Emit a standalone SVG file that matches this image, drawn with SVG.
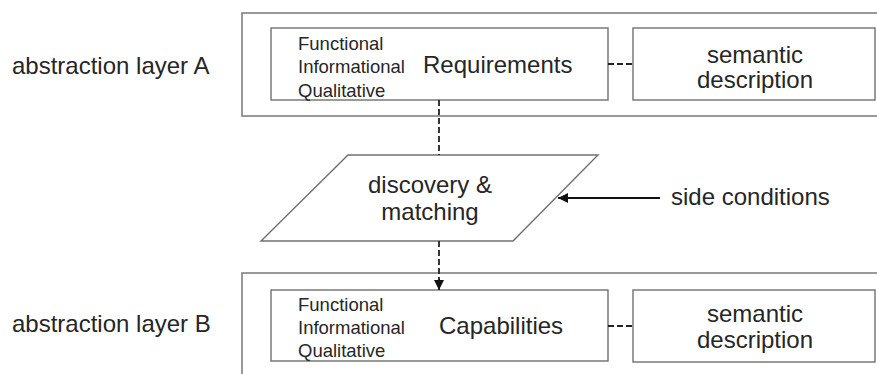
<svg xmlns="http://www.w3.org/2000/svg" width="877" height="374" viewBox="0 0 877 374">
<defs>
<style>
.outer{fill:#fff;stroke:#808080;stroke-width:1.6}
.box{fill:#fff;stroke:#707070;stroke-width:1.4}
.big{font-family:"Liberation Sans",Arial,sans-serif;font-size:24px;fill:#262626}
.small{font-family:"Liberation Sans",Arial,sans-serif;font-size:18.5px;fill:#262626}
.dash{fill:none;stroke:#222;stroke-width:1.8;stroke-dasharray:6,3}
.solid{fill:none;stroke:#111;stroke-width:2}
</style>
<marker id="ah" viewBox="0 0 10 10" refX="10" refY="5" markerWidth="10" markerHeight="10" markerUnits="userSpaceOnUse" orient="auto">
<path d="M0,0 L10,5 L0,10 z" fill="#111"/>
</marker>
</defs>
<rect width="877" height="374" fill="#fff"/>
<g id="layerA">
<rect class="outer" x="242" y="13" width="660" height="103"/>
<text class="big" x="12" y="74">abstraction layer A</text>
</g>
<g id="layerB">
<rect class="outer" x="242" y="273" width="660" height="130"/>
<text class="big" x="12" y="332">abstraction layer B</text>
</g>
<g id="requirements">
<rect class="box" x="271" y="28" width="337" height="72"/>
<text class="small" x="298" y="50">Functional</text>
<text class="small" x="298" y="73">Informational</text>
<text class="small" x="298" y="97">Qualitative</text>
<text class="big" x="423" y="73">Requirements</text>
</g>
<g id="semanticA">
<rect class="box" x="633" y="28" width="242" height="72"/>
<text class="big" x="755" y="63" text-anchor="middle">semantic</text>
<text class="big" x="755" y="88" text-anchor="middle">description</text>
</g>
<g id="matching">
<polygon class="box" points="348,155 598,155 513,241 261,241"/>
<text class="big" x="430" y="193" text-anchor="middle">discovery &amp;</text>
<text class="big" x="430" y="220" text-anchor="middle">matching</text>
</g>
<g id="sideconditions">
<text class="big" x="671" y="205">side conditions</text>
</g>
<g id="capabilities">
<rect class="box" x="271" y="290" width="337" height="71"/>
<text class="small" x="298" y="311">Functional</text>
<text class="small" x="298" y="334">Informational</text>
<text class="small" x="298" y="357">Qualitative</text>
<text class="big" x="439" y="334">Capabilities</text>
</g>
<g id="semanticB">
<rect class="box" x="633" y="290" width="242" height="72"/>
<text class="big" x="755" y="322" text-anchor="middle">semantic</text>
<text class="big" x="755" y="348" text-anchor="middle">description</text>
</g>
<g id="connectors">
<line class="dash" x1="608" y1="64" x2="633" y2="64"/>
<line class="dash" x1="608" y1="326" x2="633" y2="326"/>
<line class="dash" x1="439" y1="100" x2="439" y2="155"/>
<line class="dash" x1="439" y1="241" x2="439" y2="281"/>
<line x1="439" y1="279" x2="439" y2="290" stroke="#111" stroke-width="1.6" marker-end="url(#ah)"/>
<line class="solid" x1="660" y1="198" x2="558" y2="198" marker-end="url(#ah)"/>
</g>
</svg>
